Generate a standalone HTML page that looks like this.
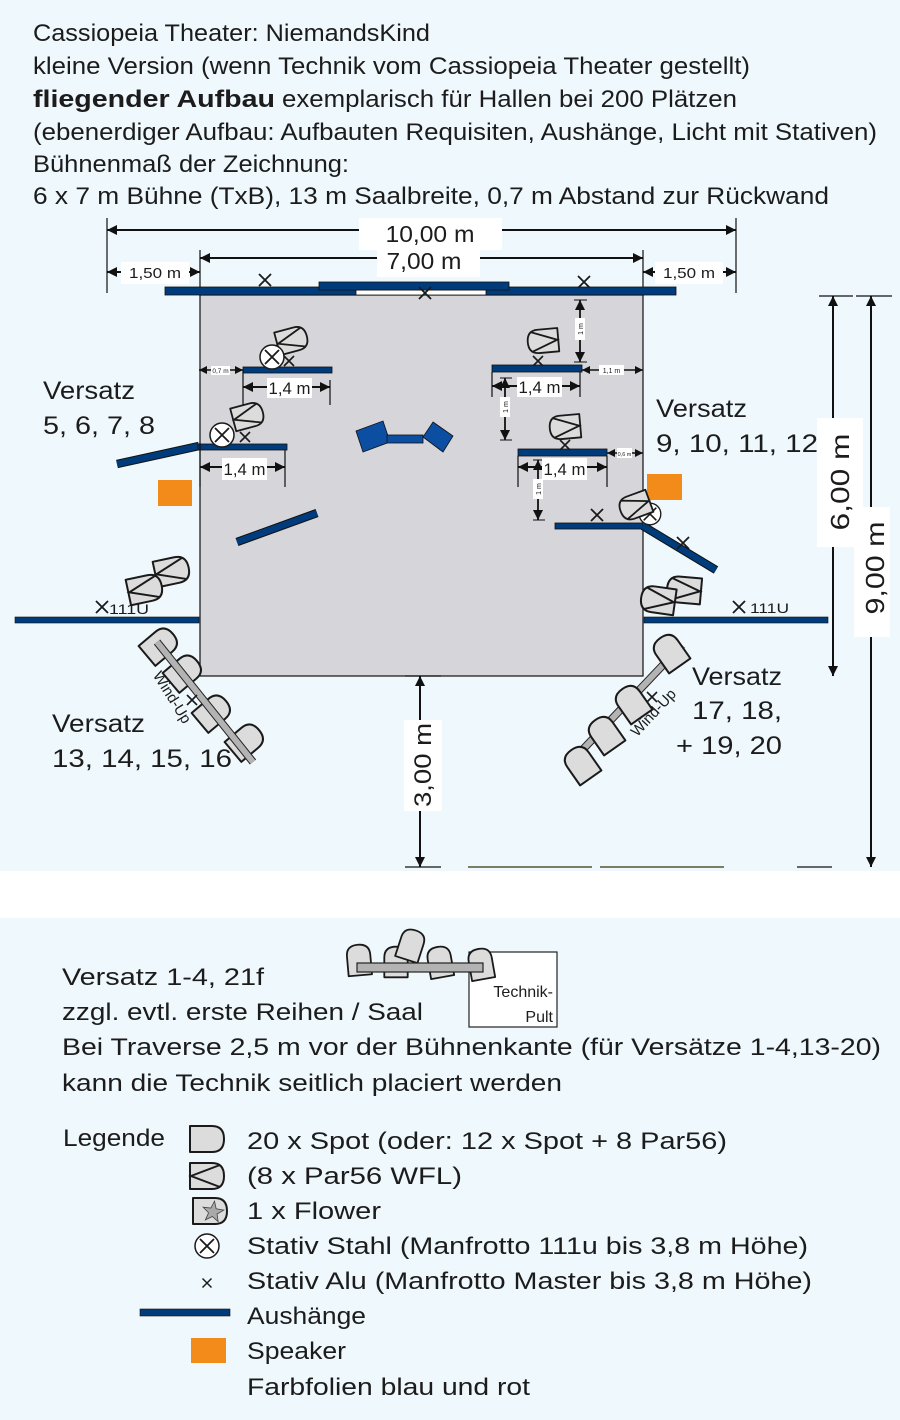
<!DOCTYPE html>
<html><head><meta charset="utf-8"><style>
html,body{margin:0;padding:0;background:#eff8fc;}
svg{display:block;}
text{font-family:"Liberation Sans",sans-serif;fill:#1c1c1c;}
</style></head><body>
<svg width="900" height="1420" viewBox="0 0 900 1420" xmlns="http://www.w3.org/2000/svg">
<defs>
<marker id="a" viewBox="0 0 10 10" refX="10" refY="5" markerWidth="12" markerHeight="10" markerUnits="userSpaceOnUse" orient="auto-start-reverse"><path d="M0,0L10,5L0,10z" fill="#111"/></marker>
<marker id="s" viewBox="0 0 10 10" refX="10" refY="5" markerWidth="8" markerHeight="8" markerUnits="userSpaceOnUse" orient="auto-start-reverse"><path d="M0,0L10,5L0,10z" fill="#111"/></marker>
<g id="spot"><path d="M-17,-13H5Q17,-13 17,0Q17,13 5,13H-17Z" fill="#dcdcdc" stroke="#1a1a1a" stroke-width="2" stroke-linejoin="round"/></g>
<g id="par"><use href="#spot"/><path d="M13,-11L-16,0L13,11" fill="none" stroke="#1a1a1a" stroke-width="2"/></g>
<g id="xm"><path d="M-6,-6L6,6M6,-6L-6,6" stroke="#1a1a1a" stroke-width="1.8"/></g>
<g id="xs"><path d="M-5,-5L5,5M5,-5L-5,5" stroke="#1a1a1a" stroke-width="1.6"/></g>
<g id="cx"><circle r="12" fill="#fff" stroke="#1a1a1a" stroke-width="1.5"/><path d="M-7,-7L7,7M7,-7L-7,7" stroke="#1a1a1a" stroke-width="1.8"/></g>
</defs>

<rect x="0" y="0" width="900" height="1420" fill="#eff8fc"/>
<rect x="0" y="871" width="900" height="47" fill="#ffffff"/>

<!-- Header -->
<text x="33" y="41" font-size="24" textLength="397" lengthAdjust="spacingAndGlyphs">Cassiopeia Theater: NiemandsKind</text>
<text x="33" y="74" font-size="24" textLength="717" lengthAdjust="spacingAndGlyphs">kleine Version (wenn Technik vom Cassiopeia Theater gestellt)</text>
<text x="33" y="107" font-size="24" font-weight="bold" textLength="242" lengthAdjust="spacingAndGlyphs">fliegender Aufbau</text>
<text x="282" y="107" font-size="24" textLength="455" lengthAdjust="spacingAndGlyphs">exemplarisch für Hallen bei 200 Plätzen</text>
<text x="33" y="140" font-size="24" textLength="844" lengthAdjust="spacingAndGlyphs">(ebenerdiger Aufbau: Aufbauten Requisiten, Aushänge, Licht mit Stativen)</text>
<text x="33" y="172" font-size="24" textLength="316" lengthAdjust="spacingAndGlyphs">Bühnenmaß der Zeichnung:</text>
<text x="33" y="204" font-size="24" textLength="796" lengthAdjust="spacingAndGlyphs">6 x 7 m Bühne (TxB), 13 m Saalbreite, 0,7 m Abstand zur Rückwand</text>

<!-- Stage -->
<rect x="200" y="295" width="443" height="381" fill="#d5d5da" stroke="#111" stroke-width="1.2"/>

<!-- top dimensions -->
<path d="M107,218V293M736,218V293M200,250V296M643,250V296" stroke="#111" stroke-width="1.2"/>
<line x1="107" y1="230" x2="736" y2="230" stroke="#111" stroke-width="2" marker-start="url(#a)" marker-end="url(#a)"/>
<line x1="200" y1="258" x2="643" y2="258" stroke="#111" stroke-width="2" marker-start="url(#a)" marker-end="url(#a)"/>
<line x1="107" y1="272" x2="200" y2="272" stroke="#111" stroke-width="2" marker-start="url(#a)" marker-end="url(#a)"/>
<line x1="643" y1="272" x2="736" y2="272" stroke="#111" stroke-width="2" marker-start="url(#a)" marker-end="url(#a)"/>
<rect x="359" y="218" width="143" height="32" fill="#fff"/>
<rect x="377" y="246" width="103" height="31" fill="#fff"/>
<text x="430" y="242" font-size="23" text-anchor="middle" textLength="89" lengthAdjust="spacingAndGlyphs">10,00 m</text>
<text x="424" y="269" font-size="23" text-anchor="middle" textLength="75" lengthAdjust="spacingAndGlyphs">7,00 m</text>
<rect x="121" y="262" width="68" height="22" fill="#fff"/>
<rect x="655" y="262" width="68" height="22" fill="#fff"/>
<text x="155" y="278" font-size="15" text-anchor="middle" textLength="52" lengthAdjust="spacingAndGlyphs">1,50 m</text>
<text x="689" y="278" font-size="15" text-anchor="middle" textLength="52" lengthAdjust="spacingAndGlyphs">1,50 m</text>

<!-- top bars -->
<rect x="165" y="287" width="511" height="8" fill="#003b7b" stroke="#111" stroke-width="0.8"/>
<rect x="356" y="290" width="130" height="5" fill="#fff" stroke="#111" stroke-width="0.8"/>
<rect x="319" y="282" width="190" height="8" fill="#003b7b" stroke="#111" stroke-width="0.8"/>
<use href="#xm" transform="translate(265,280)"/>
<use href="#xm" transform="translate(425,293)"/>
<use href="#xm" transform="translate(584,282)"/>

<!-- right dims -->
<path d="M819,296H853M856,296H892M797,867H832M405,676H441M405,867H441" stroke="#111" stroke-width="1.2"/>
<line x1="833" y1="296" x2="833" y2="676" stroke="#111" stroke-width="2" marker-start="url(#a)" marker-end="url(#a)"/>
<line x1="871" y1="296" x2="871" y2="867" stroke="#111" stroke-width="2" marker-start="url(#a)" marker-end="url(#a)"/>
<line x1="420" y1="676" x2="420" y2="867" stroke="#111" stroke-width="2" marker-start="url(#a)" marker-end="url(#a)"/>
<path d="M468,867H592M600,867H724" stroke="#55552e" stroke-width="1.5"/>

<!-- left side elements -->
<line x1="117" y1="464" x2="199" y2="446" stroke="#111" stroke-width="8.5"/>
<line x1="117" y1="464" x2="199" y2="446" stroke="#003b7b" stroke-width="6.5"/>
<rect x="198" y="444" width="89" height="6" fill="#003b7b" stroke="#111" stroke-width="0.8"/>
<rect x="243" y="367" width="89" height="6" fill="#003b7b" stroke="#111" stroke-width="0.8"/>
<line x1="237" y1="542" x2="317" y2="513" stroke="#111" stroke-width="8.5"/>
<line x1="237" y1="542" x2="317" y2="513" stroke="#003b7b" stroke-width="6.5"/>
<rect x="158" y="480" width="34" height="26" fill="#f28b1a"/>
<rect x="647" y="474" width="35" height="26" fill="#f28b1a"/>

<!-- middle object -->
<polygon points="356,431 383,421 390,442 363,452" fill="#0b4ea2" stroke="#111" stroke-width="0.8"/>
<rect x="387" y="435" width="36" height="8" fill="#0b4ea2" stroke="#111" stroke-width="0.8"/>
<polygon points="433,422 453,436 443,452 423,437" fill="#0b4ea2" stroke="#111" stroke-width="0.8"/>

<!-- right side bars -->
<rect x="492" y="365" width="90" height="7" fill="#003b7b" stroke="#111" stroke-width="0.8"/>
<rect x="518" y="449" width="89" height="7" fill="#003b7b" stroke="#111" stroke-width="0.8"/>
<rect x="555" y="523" width="88" height="6" fill="#003b7b" stroke="#111" stroke-width="0.8"/>
<line x1="643" y1="526" x2="716" y2="570" stroke="#111" stroke-width="8.5"/>
<line x1="643" y1="526" x2="716" y2="570" stroke="#003b7b" stroke-width="6.5"/>
<rect x="15" y="617" width="184" height="6" fill="#003b7b" stroke="#111" stroke-width="0.6"/>
<rect x="644" y="617" width="184" height="6" fill="#003b7b" stroke="#111" stroke-width="0.6"/>

<!-- small dims -->
<line x1="199" y1="370" x2="243" y2="370" stroke="#111" stroke-width="1.5" marker-start="url(#s)" marker-end="url(#s)"/>
<rect x="211" y="366" width="19" height="9" fill="#fff"/>
<text x="220.5" y="373" font-size="6.5" text-anchor="middle">0,7 m</text>
<line x1="582" y1="370" x2="643" y2="370" stroke="#111" stroke-width="1.5" marker-start="url(#s)" marker-end="url(#s)"/>
<path d="M643,362V378" stroke="#111" stroke-width="1"/>
<rect x="599" y="365" width="25" height="10" fill="#fff"/>
<text x="611.5" y="373" font-size="7" text-anchor="middle">1,1 m</text>
<line x1="607" y1="453" x2="643" y2="453" stroke="#111" stroke-width="1.5" marker-start="url(#s)" marker-end="url(#s)"/>
<path d="M643,446V460" stroke="#111" stroke-width="1"/>
<rect x="617" y="448" width="15" height="10" fill="#fff"/>
<text x="624.5" y="456" font-size="5.5" text-anchor="middle">0,6 m</text>

<path d="M574,300H587M574,362H587M500,378H512M500,440H512M533,460H545M533,520H545" stroke="#111" stroke-width="1"/>
<line x1="580" y1="300" x2="580" y2="362" stroke="#111" stroke-width="1.8" marker-start="url(#a)" marker-end="url(#a)"/>
<line x1="505" y1="378" x2="505" y2="440" stroke="#111" stroke-width="1.8" marker-start="url(#a)" marker-end="url(#a)"/>
<line x1="538" y1="460" x2="538" y2="520" stroke="#111" stroke-width="1.8" marker-start="url(#a)" marker-end="url(#a)"/>
<rect x="575" y="318" width="10" height="22" fill="#fff"/>
<rect x="500" y="397" width="10" height="20" fill="#fff"/>
<rect x="533" y="479" width="10" height="20" fill="#fff"/>
<text transform="translate(583,329) rotate(-90)" font-size="7" text-anchor="middle">1 m</text>
<text transform="translate(508,407) rotate(-90)" font-size="7" text-anchor="middle">1 m</text>
<text transform="translate(541,489) rotate(-90)" font-size="7" text-anchor="middle">1 m</text>

<!-- 1,4 m dims -->
<path d="M243,370V405M330,380V405M200,443V487M285,450V487M492,372V397M580,372V397M518,456V487M607,456V487" stroke="#111" stroke-width="1.2"/>
<line x1="243" y1="387" x2="330" y2="387" stroke="#111" stroke-width="2" marker-start="url(#a)" marker-end="url(#a)"/>
<line x1="200" y1="467" x2="285" y2="467" stroke="#111" stroke-width="2" marker-start="url(#a)" marker-end="url(#a)"/>
<line x1="492" y1="386" x2="580" y2="386" stroke="#111" stroke-width="2" marker-start="url(#a)" marker-end="url(#a)"/>
<line x1="518" y1="467" x2="607" y2="467" stroke="#111" stroke-width="2" marker-start="url(#a)" marker-end="url(#a)"/>
<rect x="267" y="378" width="45" height="20" fill="#fff"/>
<rect x="222" y="458" width="45" height="22" fill="#fff"/>
<rect x="517" y="377" width="45" height="20" fill="#fff"/>
<rect x="542" y="458" width="45" height="22" fill="#fff"/>
<text x="289.5" y="394" font-size="17" text-anchor="middle" textLength="42" lengthAdjust="spacingAndGlyphs">1,4 m</text>
<text x="244.5" y="475" font-size="17" text-anchor="middle" textLength="42" lengthAdjust="spacingAndGlyphs">1,4 m</text>
<text x="539.5" y="393" font-size="17" text-anchor="middle" textLength="42" lengthAdjust="spacingAndGlyphs">1,4 m</text>
<text x="564.5" y="475" font-size="17" text-anchor="middle" textLength="42" lengthAdjust="spacingAndGlyphs">1,4 m</text>

<!-- stage lamps -->
<use href="#par" transform="translate(292,340) rotate(-15) scale(0.9)"/>
<use href="#cx" transform="translate(272,357)"/>
<use href="#xs" transform="translate(289,361)"/>
<use href="#par" transform="translate(248,416) rotate(-15) scale(0.9)"/>
<use href="#cx" transform="translate(222,435)"/>
<use href="#xs" transform="translate(245,437)"/>
<use href="#par" transform="translate(543,341) rotate(175) scale(0.9)"/>
<use href="#xs" transform="translate(538,361)"/>
<use href="#par" transform="translate(565,427) rotate(175) scale(0.9)"/>
<use href="#xs" transform="translate(565,445)"/>
<use href="#cx" transform="translate(650,514) scale(0.9)"/>
<use href="#par" transform="translate(635,506) rotate(160) scale(0.9)"/>
<use href="#xm" transform="translate(597,515)"/>
<use href="#xm" transform="translate(683,543)"/>

<!-- side labels -->
<text x="43" y="399" font-size="25" textLength="92" lengthAdjust="spacingAndGlyphs">Versatz</text>
<text x="43" y="434" font-size="25" textLength="112" lengthAdjust="spacingAndGlyphs">5, 6, 7, 8</text>
<text x="656" y="417" font-size="25" textLength="91" lengthAdjust="spacingAndGlyphs">Versatz</text>
<text x="656" y="452" font-size="25" textLength="162" lengthAdjust="spacingAndGlyphs">9, 10, 11, 12</text>

<!-- 6,00 / 9,00 / 3,00 labels -->
<rect x="817" y="418" width="46" height="129" fill="#fff"/>
<rect x="854" y="507" width="36" height="130" fill="#fff"/>
<rect x="404" y="720" width="38" height="91" fill="#fff"/>
<text transform="translate(849,482) rotate(-90)" font-size="26" text-anchor="middle" textLength="97" lengthAdjust="spacingAndGlyphs">6,00 m</text>
<text transform="translate(884,568) rotate(-90)" font-size="26" text-anchor="middle" textLength="93" lengthAdjust="spacingAndGlyphs">9,00 m</text>
<text transform="translate(431,765) rotate(-90)" font-size="24" text-anchor="middle" textLength="84" lengthAdjust="spacingAndGlyphs">3,00 m</text>

<!-- bottom left -->
<use href="#xm" transform="translate(102,607)"/>
<text x="109" y="614" font-size="14" textLength="40" lengthAdjust="spacingAndGlyphs">111U</text>
<use href="#par" transform="translate(172,571) rotate(-12)"/>
<use href="#par" transform="translate(145,589) rotate(-12)"/>
<use href="#spot" transform="translate(160,645) rotate(-40)"/>
<use href="#spot" transform="translate(184,672) rotate(-40)"/>
<use href="#spot" transform="translate(213,712) rotate(-40)"/>
<use href="#spot" transform="translate(246,741) rotate(-40)"/>
<line x1="157" y1="642" x2="253" y2="762" stroke="#222" stroke-width="8"/>
<line x1="157" y1="642" x2="253" y2="762" stroke="#b3b3b3" stroke-width="6"/>
<use href="#xs" transform="translate(192,700)"/>
<text transform="translate(168,700) rotate(58)" font-size="15" text-anchor="middle">Wind-Up</text>
<text x="52" y="732" font-size="25" textLength="93" lengthAdjust="spacingAndGlyphs">Versatz</text>
<text x="52" y="767" font-size="25" textLength="180" lengthAdjust="spacingAndGlyphs">13, 14, 15, 16</text>

<!-- bottom right -->
<use href="#xm" transform="translate(739,607)"/>
<text x="750" y="613" font-size="14" textLength="39" lengthAdjust="spacingAndGlyphs">111U</text>
<use href="#par" transform="translate(684,590) rotate(185)"/>
<use href="#par" transform="translate(658,600) rotate(188)"/>
<line x1="682" y1="645" x2="570" y2="763" stroke="#222" stroke-width="8"/>
<line x1="682" y1="645" x2="570" y2="763" stroke="#b3b3b3" stroke-width="6"/>
<use href="#spot" transform="translate(670,652) rotate(-125)"/>
<use href="#spot" transform="translate(632,703) rotate(-125)"/>
<use href="#spot" transform="translate(605,734) rotate(-125)"/>
<use href="#spot" transform="translate(581,764) rotate(-125)"/>
<use href="#xs" transform="translate(652,697)"/>
<text transform="translate(657,716) rotate(-47)" font-size="15" text-anchor="middle">Wind-Up</text>
<text x="692" y="685" font-size="25" textLength="90" lengthAdjust="spacingAndGlyphs">Versatz</text>
<text x="692" y="719" font-size="25" textLength="90" lengthAdjust="spacingAndGlyphs">17, 18,</text>
<text x="676" y="754" font-size="25" textLength="106" lengthAdjust="spacingAndGlyphs">+ 19, 20</text>

<!-- lower section -->
<rect x="469" y="952" width="88" height="75" fill="#fff" stroke="#222" stroke-width="1.2"/>
<text x="553" y="997" font-size="16" text-anchor="end">Technik-</text>
<text x="553" y="1022" font-size="16" text-anchor="end">Pult</text>
<use href="#spot" transform="translate(359,960) rotate(-95) scale(0.9)"/>
<use href="#spot" transform="translate(396,962) rotate(-90) scale(0.9)"/>
<use href="#spot" transform="translate(440,962) rotate(-100) scale(0.9)"/>
<use href="#spot" transform="translate(411,945) rotate(-72) scale(0.9)"/>
<use href="#spot" transform="translate(481,964) rotate(-100) scale(0.9)"/>
<rect x="357" y="963" width="126" height="9" fill="#b3b3b3" stroke="#222" stroke-width="1.2"/>

<text x="62" y="985" font-size="24" textLength="202" lengthAdjust="spacingAndGlyphs">Versatz 1-4, 21f</text>
<text x="62" y="1020" font-size="24" textLength="361" lengthAdjust="spacingAndGlyphs">zzgl. evtl. erste Reihen / Saal</text>
<text x="62" y="1055" font-size="24" textLength="819" lengthAdjust="spacingAndGlyphs">Bei Traverse 2,5 m vor der Bühnenkante (für Versätze 1-4,13-20)</text>
<text x="62" y="1091" font-size="24" textLength="500" lengthAdjust="spacingAndGlyphs">kann die Technik seitlich placiert werden</text>

<!-- legend -->
<text x="63" y="1146" font-size="24" textLength="102" lengthAdjust="spacingAndGlyphs">Legende</text>
<use href="#spot" transform="translate(207,1139)"/>
<use href="#par" transform="translate(207,1176)"/>
<use href="#spot" transform="translate(210,1211)"/>
<polygon transform="translate(213,1212) rotate(8)" points="0,-11 2.65,-3.64 10.46,-3.4 4.28,1.39 6.47,8.9 0,4.5 -6.47,8.9 -4.28,1.39 -10.46,-3.4 -2.65,-3.64" fill="#a9a9a9" stroke="#444" stroke-width="0.8"/>
<use href="#cx" transform="translate(207,1246)"/>
<use href="#xs" transform="translate(207,1283) scale(0.9)"/>
<rect x="140" y="1309" width="90" height="7" fill="#003b7b" stroke="#111" stroke-width="0.6"/>
<rect x="191" y="1338" width="35" height="25" fill="#f28b1a"/>

<text x="247" y="1149" font-size="24" textLength="480" lengthAdjust="spacingAndGlyphs">20 x Spot (oder: 12 x Spot + 8 Par56)</text>
<text x="247" y="1184" font-size="24" textLength="215" lengthAdjust="spacingAndGlyphs">(8 x Par56 WFL)</text>
<text x="247" y="1219" font-size="24" textLength="134" lengthAdjust="spacingAndGlyphs">1 x Flower</text>
<text x="247" y="1254" font-size="24" textLength="561" lengthAdjust="spacingAndGlyphs">Stativ Stahl (Manfrotto 111u bis 3,8 m Höhe)</text>
<text x="247" y="1289" font-size="24" textLength="565" lengthAdjust="spacingAndGlyphs">Stativ Alu (Manfrotto Master bis 3,8 m Höhe)</text>
<text x="247" y="1324" font-size="24" textLength="119" lengthAdjust="spacingAndGlyphs">Aushänge</text>
<text x="247" y="1359" font-size="24" textLength="99" lengthAdjust="spacingAndGlyphs">Speaker</text>
<text x="247" y="1395" font-size="24" textLength="283" lengthAdjust="spacingAndGlyphs">Farbfolien blau und rot</text>
</svg>
</body></html>
